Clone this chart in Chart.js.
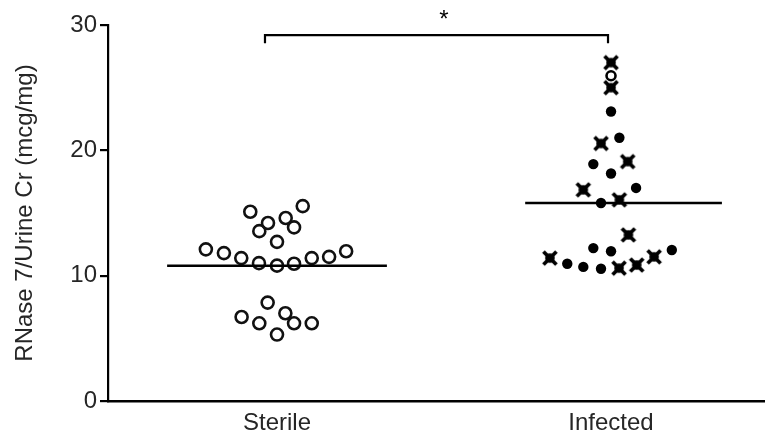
<!DOCTYPE html>
<html>
<head>
<meta charset="utf-8">
<script src="https://cdn.jsdelivr.net/npm/chart.js@4/dist/chart.umd.min.js"></script>
<style>
  html, body { margin: 0; padding: 0; background: #fff; }
  #wrap { width: 765px; height: 437px; position: relative; }
</style>
</head>
<body>
<div id="wrap"><canvas id="c" width="765" height="437"></canvas></div>
<script>
// ---- data ----
const categories = ['Sterile', 'Infected'];
const yTicks = [0, 10, 20, 30];
const yTitle = 'RNase 7/Urine Cr (mcg/mg)';

// Sterile group (open circles): x = category position incl. jitter, y = value
const sterileX = [0.920, 1.077, 0.973, 1.026, 0.947, 1.051, 1.000, 0.787, 0.841, 0.893, 0.946, 1.000, 1.051, 1.104, 1.156, 1.207, 0.972, 0.894, 0.947, 1.025, 1.051, 1.104, 1.000];
const sterileY = [15.1, 15.55, 14.2, 14.6, 13.55, 13.85, 12.7, 12.1, 11.8, 11.4, 11.0, 10.8, 10.95, 11.4, 11.5, 11.95, 7.85, 6.7, 6.2, 7.0, 6.2, 6.2, 5.3];

// Infected group, filled circles
const infectedDotX = [2.000, 2.025, 1.947, 2.000, 2.075, 1.970, 1.947, 2.000, 1.869, 1.917, 1.970, 2.182];
const infectedDotY = [23.1, 21.0, 18.9, 18.15, 17.0, 15.8, 12.2, 11.95, 10.95, 10.7, 10.55, 12.05];

// Infected group, crossed markers
const infectedCrossX = [2.000, 2.000, 1.970, 2.050, 1.917, 2.025, 2.052, 1.817, 2.024, 2.077, 2.129];
const infectedCrossY = [27.0, 25.0, 20.55, 19.1, 16.85, 16.05, 13.25, 11.4, 10.6, 10.85, 11.5];

// Infected group, open circle
const infectedRingX = [2.000];
const infectedRingY = [25.95];

// group means (horizontal lines) and their extents
const means = [10.8, 15.8];
const meanStart = [0.671, 1.743];
const meanEnd = [1.329, 2.332];

// significance bracket
const bracketX = [0.964, 0.964, 1.991, 1.991];
const bracketY = [28.55, 29.2, 29.2, 28.55];
const starX = 1.5;
const starY = 30.8;
const starText = '*';

// ---- styling helpers ----
const FONT = '"Liberation Sans", Arial, Helvetica, sans-serif';
const TEXT = '#262626';

function makeCross() {
  const s = 18;
  const cv = document.createElement('canvas');
  cv.width = s; cv.height = s;
  const g = cv.getContext('2d');
  g.fillStyle = '#000';
  g.strokeStyle = '#000';
  g.beginPath(); g.arc(s/2, s/2, 4.8, 0, Math.PI*2); g.fill();
  g.lineWidth = 3.8; g.lineCap = 'butt';
  g.beginPath(); g.moveTo(2.5, 2.5); g.lineTo(s-2.5, s-2.5); g.moveTo(s-2.5, 2.5); g.lineTo(2.5, s-2.5); g.stroke();
  return cv;
}
const crossImg = makeCross();

const zip = (xs, ys) => xs.map((x, i) => ({x: x, y: ys[i]}));

const starPlugin = {
  id: 'star',
  afterDraw(chart) {
    const ctx = chart.ctx;
    const xs = chart.scales.x, ys = chart.scales.y;
    ctx.save();
    ctx.fillStyle = '#000';
    ctx.font = '24px ' + FONT;
    ctx.textAlign = 'center';
    ctx.textBaseline = 'middle';
    ctx.fillText(starText, xs.getPixelForValue(starX), ys.getPixelForValue(starY) + 5);
    ctx.restore();
  }
};

const meanDatasets = means.map((m, i) => ({
  type: 'line',
  data: [{x: meanStart[i], y: m}, {x: meanEnd[i], y: m}],
  borderColor: '#000',
  borderWidth: 2.5,
  pointRadius: 0,
  fill: false
}));

new Chart(document.getElementById('c'), {
  type: 'scatter',
  data: {
    datasets: [
      ...meanDatasets,
      {
        type: 'line',
        data: zip(bracketX, bracketY),
        borderColor: '#000',
        borderWidth: 2.2,
        pointRadius: 0,
        fill: false,
        clip: false
      },
      {
        data: zip(sterileX, sterileY),
        pointStyle: 'circle',
        pointRadius: 6,
        pointBorderWidth: 2.6,
        pointBorderColor: '#111',
        pointBackgroundColor: 'rgba(255,255,255,0)'
      },
      {
        data: zip(infectedRingX, infectedRingY),
        pointStyle: 'circle',
        pointRadius: 4.5,
        pointBorderWidth: 2.6,
        pointBorderColor: '#000',
        pointBackgroundColor: '#fff'
      },
      {
        data: zip(infectedDotX, infectedDotY),
        pointStyle: 'circle',
        pointRadius: 5.2,
        pointBorderWidth: 0,
        pointBackgroundColor: '#000'
      },
      {
        data: zip(infectedCrossX, infectedCrossY),
        pointStyle: crossImg,
        pointRadius: 9
      }
    ]
  },
  options: {
    responsive: false,
    animation: false,
    devicePixelRatio: 1,
    layout: { autoPadding: false, padding: { top: 25, right: 0, bottom: 0, left: 0 } },
    plugins: { legend: { display: false }, tooltip: { enabled: false } },
    scales: {
      x: {
        type: 'linear',
        min: 0.494,
        max: 2.461,
        afterBuildTicks: (s) => { s.ticks = categories.map((c, i) => ({ value: i + 1 })); },
        afterFit: (s) => { s.height = 36; s.paddingLeft = 0; s.paddingRight = 0; },
        ticks: {
          callback: (v) => categories[Math.round(v) - 1] || '',
          font: { family: FONT, size: 24 },
          color: TEXT,
          padding: 8,
          maxRotation: 0,
          autoSkip: false
        },
        grid: { display: false, drawTicks: false },
        border: { display: true, color: '#000', width: 2.6 }
      },
      y: {
        min: 0,
        max: 30,
        afterBuildTicks: (s) => { s.ticks = yTicks.map(v => ({ value: v })); },
        afterFit: (s) => { s.width = 108; },
        ticks: {
          font: { family: FONT, size: 24 },
          color: TEXT,
          padding: 3
        },
        grid: {
          display: true,
          drawOnChartArea: false,
          drawTicks: true,
          tickLength: 8,
          color: '#000',
          lineWidth: 2.2
        },
        border: { display: true, color: '#000', width: 2.2 },
        title: {
          display: true,
          text: yTitle,
          font: { family: FONT, size: 24 },
          color: TEXT,
          padding: { top: 11, bottom: 0 }
        }
      }
    }
  },
  plugins: [starPlugin]
});
</script>
</body>
</html>
